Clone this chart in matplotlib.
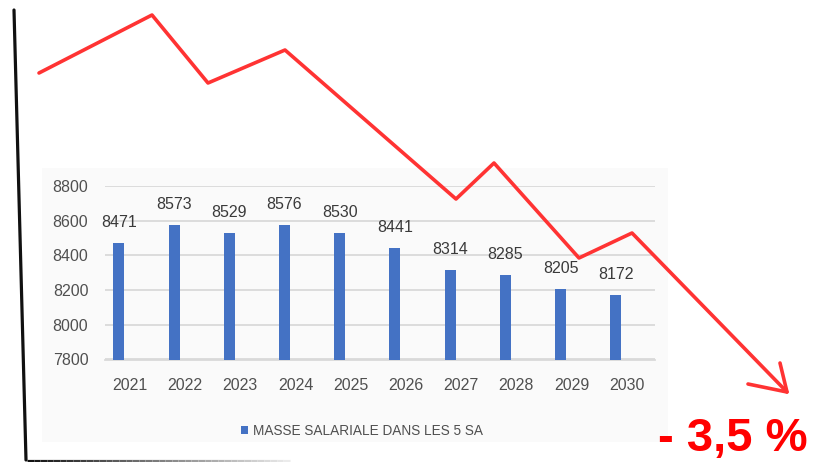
import matplotlib
matplotlib.use('Agg')
import matplotlib.pyplot as plt
import numpy as np
from matplotlib import font_manager as fm
from matplotlib.collections import LineCollection
from matplotlib.patches import Rectangle

# ---------------- data ----------------
years = ['2021', '2022', '2023', '2024', '2025', '2026', '2027', '2028', '2029', '2030']
masse = [8471, 8573, 8529, 8576, 8530, 8441, 8314, 8285, 8205, 8172]
yticks = [7800, 8000, 8200, 8400, 8600, 8800]
legend_label = 'MASSE SALARIALE DANS LES 5 SA'
badge = '- 3,5 %'

# decorative hand-drawn trend arrow (image pixel coordinates)
trend_x = [39, 152, 208, 285, 456, 494, 579, 632, 787]
trend_y = [73, 15, 83, 50, 199, 163, 258, 233, 392]
head_x = [780, 787, 748]
head_y = [363, 392, 384]
frame_x = [14, 26]
frame_y = [10, 460]
base_x = [27, 290]
base_y = [460.5, 460.5]

# ---------------- fonts ----------------
avail = {f.name for f in fm.fontManager.ttflist}
if 'Liberation Sans Narrow' in avail:
    FONT = ['Liberation Sans Narrow', 'DejaVu Sans']
    fs_lab, fs_leg, fs_big = 12.5, 11, 42
else:
    FONT = ['Liberation Sans', 'DejaVu Sans']
    fs_lab, fs_leg, fs_big = 11.5, 9.8, 34
plt.rcParams['font.family'] = FONT

W, H = 819, 462
fig = plt.figure(figsize=(W / 100, H / 100), dpi=100)
fig.patch.set_facecolor('white')

# background panel of the pasted chart
bg = fig.add_axes([0, 0, 1, 1], zorder=0)
bg.set_xlim(0, W)
bg.set_ylim(H, 0)
bg.axis('off')
bg.add_patch(Rectangle((42, 168), 626, 274, facecolor='#fafafa', edgecolor='none'))

# ---------------- bar chart ----------------
left, right, top, bottom = 105, 655, 186, 359.5
ax = fig.add_axes([left / W, 1 - bottom / H, (right - left) / W, (bottom - top) / H], zorder=1)
ax.set_facecolor('none')
x = np.arange(len(years))
bars = ax.bar(x - 0.2, masse, width=0.2, color='#4472C4', zorder=3)
ax.set_ylim(7800, 8800)
ax.set_xlim(-0.45, 9.51)
ax.set_yticks(yticks)
ax.set_xticks(x)
ax.set_xticklabels(years)
ax.grid(axis='y', color='#d9d9d9', linewidth=1.3, zorder=0)
for s in ['top', 'right', 'left']:
    ax.spines[s].set_visible(False)
ax.spines['bottom'].set_color('#d9d9d9')
ax.spines['bottom'].set_linewidth(1.3)
ax.tick_params(axis='both', length=0, labelsize=fs_lab, labelcolor='#505050')
ax.tick_params(axis='x', pad=13)
ax.tick_params(axis='y', pad=12)
for xi, v in zip(x, masse):
    ax.annotate(str(v), (xi - 0.2, v), xytext=(0, 15), textcoords='offset points',
                ha='center', va='center', fontsize=fs_lab, color='#3a3a3a')

ax.legend([bars], [legend_label], loc='center', frameon=False,
          bbox_to_anchor=(362 / W, 1 - 431 / H), bbox_transform=fig.transFigure,
          fontsize=fs_leg, labelcolor='#505050', handlelength=0.5, handleheight=0.5,
          handletextpad=0.4)

# ---------------- overlay drawings ----------------
ov = fig.add_axes([0, 0, 1, 1], zorder=2)
ov.set_xlim(0, W)
ov.set_ylim(H, 0)
ov.axis('off')
ov.patch.set_alpha(0)

ov.plot(trend_x, trend_y, color='#ff3333', linewidth=2.6, solid_joinstyle='round',
        solid_capstyle='round')
ov.plot(head_x, head_y, color='#ff3333', linewidth=2.6, solid_joinstyle='round',
        solid_capstyle='round')
ov.plot(frame_x, frame_y, color='#111111', linewidth=2.3, solid_capstyle='round')

# fading base line
n = 40
xs = np.linspace(base_x[0], base_x[1], n + 1)
segs = [[(xs[i], base_y[0]), (xs[i + 1], base_y[1])] for i in range(n)]
grey = np.linspace(0.07, 0.92, n)
lc = LineCollection(segs, colors=[(g, g, g) for g in grey], linewidths=2.3)
ov.add_collection(lc)

ov.text(808, 451, badge, ha='right', va='baseline', fontsize=fs_big,
        fontweight='bold', color='#ff0000')

fig.savefig('out.png', dpi=100, facecolor='white')
